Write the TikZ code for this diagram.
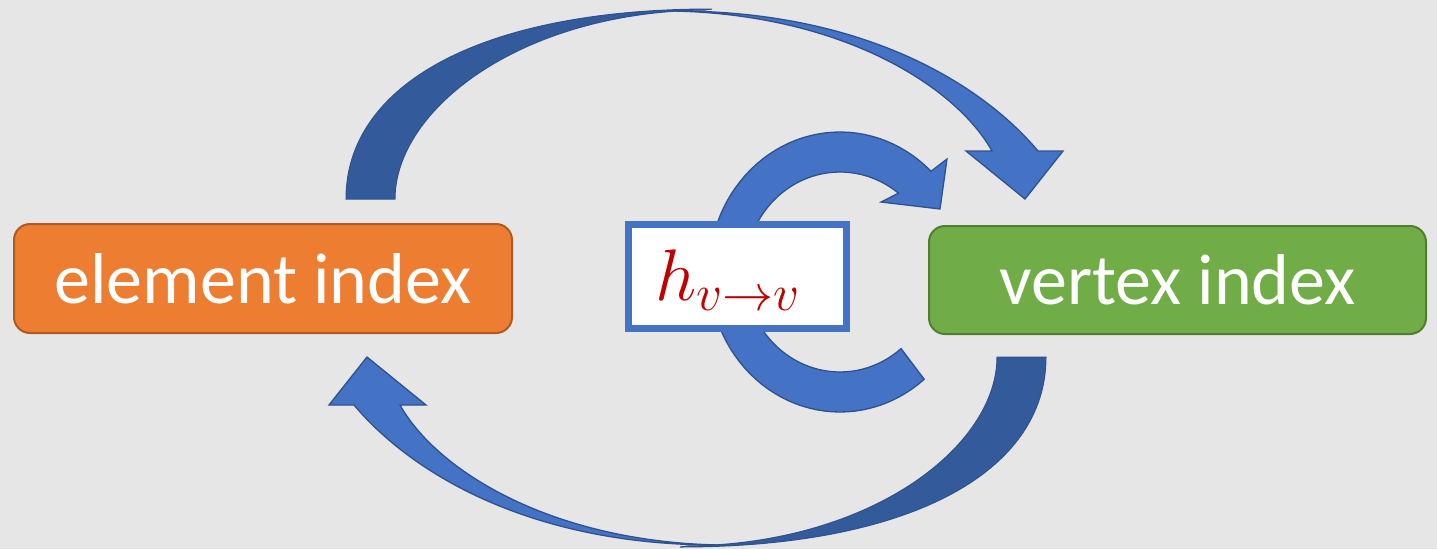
\RequirePackage{fix-cm}
\documentclass[tikz,border=0pt]{standalone}
\usepackage{fontspec}
\setmainfont{Carlito}
\definecolor{bgc}{HTML}{E7E6E6}
\definecolor{accblue}{HTML}{4472C4}
\definecolor{darkband}{HTML}{335A9A}
\definecolor{edgeblue}{HTML}{2F528F}
\definecolor{orangefill}{HTML}{ED7D31}
\definecolor{orangeedge}{HTML}{AE5A21}
\definecolor{greenfill}{HTML}{70AD47}
\definecolor{greenedge}{HTML}{507E32}
\definecolor{mathred}{HTML}{C00000}
\tikzset{
  frontband/.style={fill=accblue, draw=edgeblue, line width=1.3pt, line join=miter},
  backband/.style={fill=darkband, draw=edgeblue, line width=1.0pt},
  indexbox/.style={rectangle, rounded corners=16pt, line width=2pt, text=white,
    font=\fontsize{72}{86}\selectfont, inner sep=0pt},
  funcbox/.style={rectangle, draw=accblue, fill=white, line width=6.5pt, inner sep=0pt},
  functext/.style={text=mathred, font=\fontsize{73}{86}\selectfont, inner sep=0pt}
}
\newcommand{\bigcurvedarrowshape}{%
  \path[backband] (346,199) .. controls (346,85) and (480,9) .. (712,9)
    -- (705,10) .. controls (520,12) and (395,110) .. (395,199) -- cycle;
  \path[frontband] (672,11) .. controls (860,10) and (980,82) .. (1038,151)
    -- (1063,151) -- (1025,199) -- (966,151) -- (992,151)
    .. controls (955,85) and (840,14) .. (672,11) -- cycle;
}
\begin{document}
\begin{tikzpicture}[x=1pt, y=-1pt]
  \fill[bgc] (0,0) rectangle (1437,549);
  \useasboundingbox (0,0) rectangle (1437,549);

  % upper curved arrow: element index -> vertex index
  \bigcurvedarrowshape
  % lower curved arrow: vertex index -> element index
  \begin{scope}[rotate around={180:(696,278)}]
    \bigcurvedarrowshape
  \end{scope}

  % circular arrow behind the function box
  \path[frontband]
    plot[domain=50:314, samples=80] ({840+131*cos(\x)},{272+140*sin(\x)})
    -- (947,159) -- (940,209) -- (881,202) --
    plot[domain=308:50, samples=80] ({840+95*cos(\x)},{272+100*sin(\x)}) -- cycle;

  % nodes
  \node[indexbox, fill=orangefill, draw=orangeedge, minimum width=498pt, minimum height=109pt] (elem) at (263,278.5) {element index};
  \node[indexbox, fill=greenfill, draw=greenedge, minimum width=497pt, minimum height=108pt] (vert) at (1177.5,280) {vertex index};
  \node[funcbox, minimum width=218pt, minimum height=104pt] (func) at (737.5,276.5) {};
  \node[functext, anchor=base west] (hlabel) at (655,300) {$h_{v\to v}$};
\end{tikzpicture}
\end{document}
